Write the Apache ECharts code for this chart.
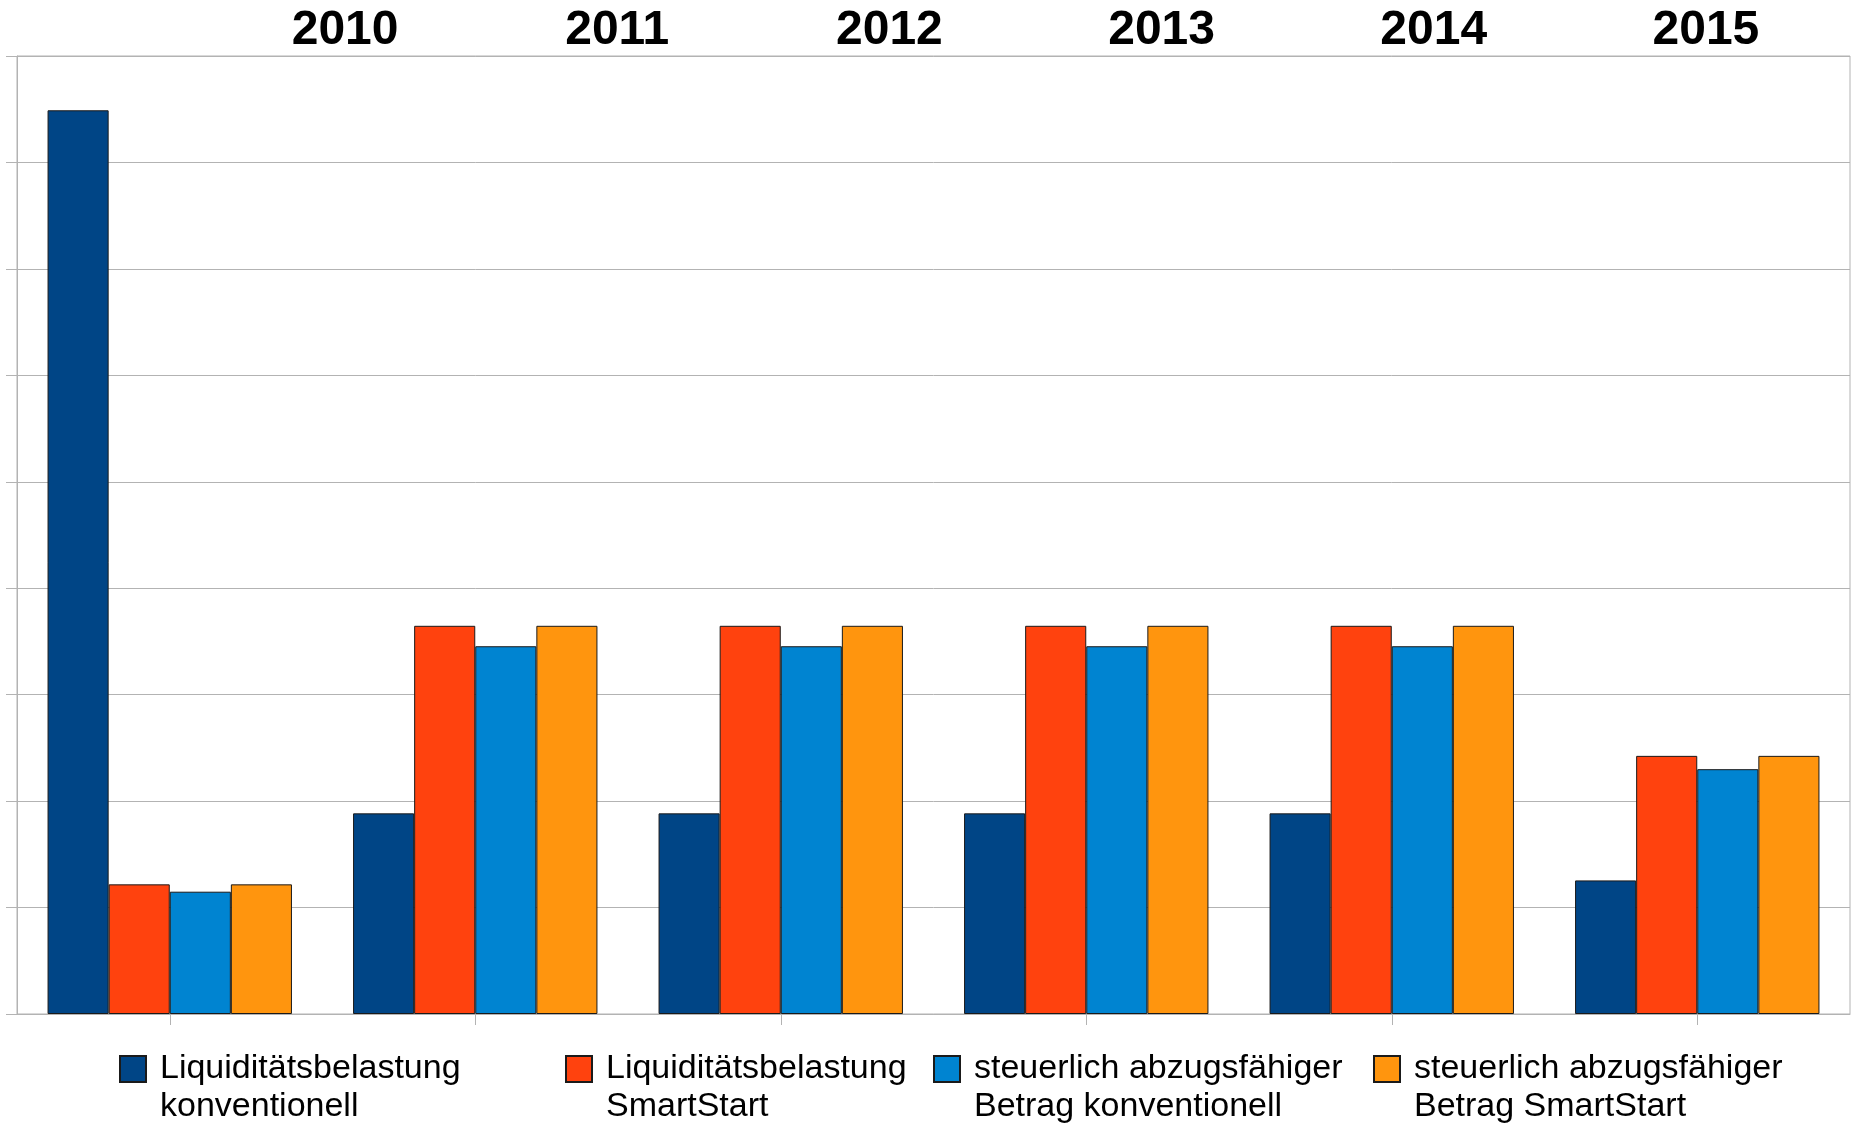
<!DOCTYPE html>
<html>
<head>
<meta charset="utf-8">
<script src="https://cdn.jsdelivr.net/npm/echarts@6/dist/echarts.min.js"></script>
<style>
  html, body { margin: 0; padding: 0; background: #fff; }
  #chart { width: 1851px; height: 1125px; }
</style>
</head>
<body>
<div id="chart"></div>
<script>
// years, shown above the plot
const years = ["2010", "2011", "2012", "2013", "2014", "2015"];

// values in grid steps (axis has no labels)
const liqKonv = [8.49, 1.885, 1.885, 1.885, 1.885, 1.255];
const liqSmart = [1.218, 3.647, 3.647, 3.647, 3.647, 2.425];
const steuerKonv = [1.149, 3.455, 3.455, 3.455, 3.455, 2.30];
const steuerSmart = [1.218, 3.647, 3.647, 3.647, 3.647, 2.425];

const seriesNames = [
  "Liquiditätsbelastung\nkonventionell",
  "Liquiditätsbelastung\nSmartStart",
  "steuerlich abzugsfähiger\nBetrag konventionell",
  "steuerlich abzugsfähiger\nBetrag SmartStart"
];
const colors = ["#004586", "#ff420e", "#0084d1", "#ff950e"];
const legendLeft = [119, 565, 933, 1373];

const chart = echarts.init(document.getElementById("chart"));

function bar(name, data, i) {
  return {
    name: name,
    type: "bar",
    data: data,
    barGap: 0,
    barCategoryGap: "20%",
    itemStyle: {
      color: colors[i],
      borderColor: "#1a1a1a",
      borderWidth: 1
    }
  };
}

chart.setOption({
  animation: false,
  textStyle: { fontFamily: "Liberation Sans, Arial, sans-serif" },
  grid: [
    {
      left: 17, right: 1, top: 56, bottom: 111,
      show: true, borderColor: "#b3b3b3", borderWidth: 1
    },
    { left: 209, right: 9, top: 31, height: 1 }
  ],
  // one legend per item so each sits where it does in the original
  legend: seriesNames.map((n, i) => ({
    data: [n],
    left: legendLeft[i],
    top: 1012,
    padding: 0,
    icon: "rect",
    itemWidth: 26,
    itemHeight: 26,
    selectedMode: false,
    // empty first line keeps the swatch level with the first text line
    formatter: name => " \n" + name,
    textStyle: {
      fontSize: 34,
      lineHeight: 38,
      color: "#000",
      padding: [0, 0, 0, 9]
    }
  })),
  xAxis: [
    {
      type: "category",
      data: years,
      gridIndex: 0,
      axisLine: { lineStyle: { color: "#b3b3b3" } },
      axisTick: { show: true, alignWithLabel: true, length: 11, lineStyle: { color: "#b3b3b3" } },
      axisLabel: { show: false }
    },
    {
      type: "category",
      data: years,
      gridIndex: 1,
      position: "top",
      axisLine: { show: false },
      axisTick: { show: false },
      axisLabel: {
        margin: 0,
        verticalAlign: "middle",
        fontSize: 48,
        fontWeight: "bold",
        color: "#000"
      }
    }
  ],
  yAxis: [
    {
      type: "value",
      gridIndex: 0,
      min: 0,
      max: 9,
      interval: 1,
      axisLine: { show: true, lineStyle: { color: "#b3b3b3" } },
      axisTick: { show: true, length: 11, lineStyle: { color: "#b3b3b3" } },
      axisLabel: { show: false },
      splitLine: { lineStyle: { color: "#b3b3b3" } }
    },
    { type: "value", gridIndex: 1, show: false }
  ],
  series: [
    bar(seriesNames[0], liqKonv, 0),
    bar(seriesNames[1], liqSmart, 1),
    bar(seriesNames[2], steuerKonv, 2),
    bar(seriesNames[3], steuerSmart, 3)
  ]
});
</script>
</body>
</html>
